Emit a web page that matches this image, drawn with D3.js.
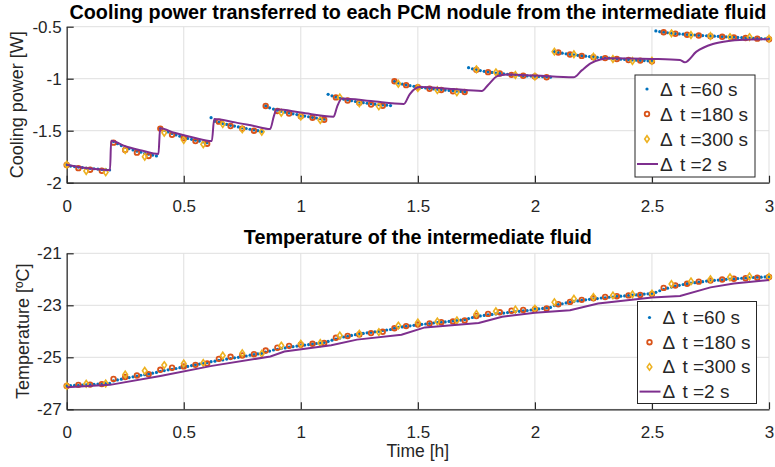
<!DOCTYPE html>
<html>
<head>
<meta charset="utf-8">
<script src="https://cdn.jsdelivr.net/npm/d3@7"></script>
<style>
  body { margin: 0; background: #fff; }
  svg text { font-family: "Liberation Sans", Arial, Helvetica, sans-serif; fill: #262626; }
</style>
</head>
<body>
<svg id="chart" width="775" height="467"></svg>
<script>

// sampling steps of each run, in hours
const step60 = 60 / 3600;
const step180 = 180 / 3600;
const step300 = 300 / 3600;

const xTicks = [0, 0.5, 1, 1.5, 2, 2.5, 3];
const powerTicks = [-2, -1.5, -1, -0.5];
const tempTicks = [-27, -25, -23, -21];

const legendLabels = ["t =60 s", "t =180 s", "t =300 s", "t =2 s"];

// cooling power [W], dt = 60 s (one value per minute)
const power60 = [
  -1.83,-1.84,-1.845,-1.85,-1.855,-1.86,-1.862,-1.866,-1.869,-1.872,-1.875,-1.878,
  -1.605,-1.625,-1.643,-1.658,-1.672,-1.685,-1.697,-1.707,-1.717,-1.726,-1.735,-1.743,
  -1.477,-1.495,-1.512,-1.527,-1.541,-1.553,-1.564,-1.574,-1.583,-1.592,-1.6,-1.608,-1.615,
  -1.375,-1.41,-1.42,-1.43,-1.44,-1.448,-1.456,-1.464,-1.472,-1.479,-1.486,-1.493,-1.5,-1.507,
  -1.262,-1.28,-1.292,-1.303,-1.313,-1.322,-1.33,-1.338,-1.345,-1.352,-1.359,-1.366,-1.372,-1.378,-1.384,-1.39,
  -1.15,-1.165,-1.178,-1.188,-1.197,-1.205,-1.212,-1.219,-1.225,-1.231,-1.236,-1.241,-1.245,-1.249,-1.252,-1.255,-1.258,
  -1.025,-1.042,-1.052,-1.06,-1.067,-1.073,-1.079,-1.084,-1.089,-1.093,-1.097,-1.101,-1.105,-1.109,-1.113,-1.116,-1.119,-1.122,-1.125,
  -0.894,-0.905,-0.914,-0.922,-0.929,-0.935,-0.94,-0.945,-0.949,-0.953,-0.957,-0.961,-0.964,-0.967,-0.97,-0.973,-0.975,-0.977,-0.979,-0.981,-0.983,-0.985,
  -0.74,-0.748,-0.755,-0.761,-0.766,-0.771,-0.775,-0.779,-0.783,-0.787,-0.791,-0.794,-0.797,-0.8,-0.803,-0.806,-0.809,-0.812,-0.815,-0.818,-0.82,-0.822,-0.824,-0.826,-0.828,-0.83,
  -0.541,-0.548,-0.553,-0.558,-0.562,-0.566,-0.569,-0.572,-0.575,-0.578,-0.58,-0.583,-0.585,-0.587,-0.589,-0.591,-0.593,-0.595,-0.597,-0.599,-0.601,-0.603,-0.605,-0.607,-0.609,-0.611,-0.613,-0.615,-0.616,-0.618
];

// cooling power [W], dt = 180 s
const power180 = [
  -1.83,-1.86,-1.875,-1.885,
  -1.615,-1.685,-1.711,-1.743,
  -1.48,-1.54,-1.57,-1.6,-1.625,
  -1.413,-1.455,-1.48,-1.5,
  -1.262,-1.31,-1.335,-1.36,-1.375,-1.395,
  -1.18,-1.21,-1.232,-1.248,-1.26,
  -1.025,-1.062,-1.082,-1.097,-1.108,-1.12,-1.128,
  -0.915,-0.937,-0.95,-0.963,-0.972,-0.979,-0.986,
  -0.748,-0.768,-0.781,-0.793,-0.802,-0.811,-0.82,-0.826,-0.833,
  -0.554,-0.568,-0.577,-0.585,-0.591,-0.597,-0.603,-0.609,-0.615,-0.62
];

// cooling power [W], dt = 300 s
const power300 = [
  -1.827,-1.887,-1.9, -1.686,-1.75, -1.519,-1.59,-1.631, -1.436,-1.487,-1.51,
  -1.327,-1.365,-1.397, -1.18,-1.237,-1.266, -1.048,-1.09,-1.11,-1.131,
  -0.91,-0.939,-0.964,-0.98, -0.74,-0.765,-0.788,-0.81,-0.83,-0.827,
  -0.564,-0.58,-0.59,-0.6,-0.6,-0.615
];

// cooling power [W], dt = 2 s (reference run, read at its corners)
const power2Time = [0,0.09,0.185,0.19,0.25,0.32,0.392,0.399,0.46,0.54,0.62,0.63,0.72,0.8,0.869,0.885,0.897,
  1.0,1.14,1.155,1.175,1.3,1.44,1.465,1.49,1.51,1.65,1.773,1.8,1.84,1.88,2.0,2.165,2.2,2.24,2.28,2.32,
  2.5,2.62,2.64,2.69,2.76,2.835,2.92,3.0];
const power2 = [-1.827,-1.86,-1.878,-1.596,-1.65,-1.69,-1.724,-1.477,-1.52,-1.565,-1.599,-1.388,-1.42,-1.455,-1.484,-1.36,-1.294,
  -1.325,-1.365,-1.27,-1.19,-1.215,-1.243,-1.15,-1.093,-1.08,-1.1,-1.118,-1.06,-0.975,-0.96,-0.97,-0.987,-0.92,-0.85,-0.815,-0.804,
  -0.81,-0.82,-0.843,-0.74,-0.667,-0.635,-0.622,-0.62];

// fluid temperature [C], dt = 60 s
const temp60 = [
  -26.10,-26.09,-26.08,-26.08,-26.07,-26.06,-26.05,-26.04,-26.03,-26.02,-26.01,-26.00,
  -25.91,-25.87,-25.84,-25.81,-25.78,-25.75,-25.72,-25.69,-25.67,-25.64,-25.61,-25.58,
  -25.54,-25.51,-25.48,-25.46,-25.43,-25.40,-25.37,-25.35,-25.32,-25.29,-25.26,-25.24,-25.21,
  -25.17,-25.15,-25.12,-25.10,-25.07,-25.05,-25.02,-25.00,-24.97,-24.95,-24.92,-24.90,-24.87,-24.85,
  -24.80,-24.76,-24.72,-24.69,-24.66,-24.64,-24.61,-24.59,-24.57,-24.55,-24.53,-24.51,-24.49,-24.47,-24.45,-24.43,
  -24.39,-24.34,-24.30,-24.26,-24.22,-24.19,-24.16,-24.13,-24.11,-24.08,-24.06,-24.04,-24.02,-24.00,-23.97,-23.95,-23.93,
  -23.88,-23.85,-23.83,-23.81,-23.79,-23.77,-23.75,-23.73,-23.72,-23.70,-23.68,-23.67,-23.65,-23.64,-23.62,-23.60,-23.59,-23.57,-23.55,
  -23.51,-23.47,-23.44,-23.41,-23.39,-23.37,-23.35,-23.33,-23.32,-23.30,-23.28,-23.27,-23.25,-23.23,-23.21,-23.20,-23.18,-23.16,-23.14,-23.12,-23.10,-23.08,
  -23.01,-22.97,-22.94,-22.91,-22.88,-22.85,-22.83,-22.81,-22.79,-22.77,-22.75,-22.74,-22.72,-22.71,-22.69,-22.68,-22.66,-22.65,-22.64,-22.62,-22.61,-22.60,-22.59,-22.57,-22.56,-22.55,
  -22.50,-22.44,-22.39,-22.34,-22.30,-22.26,-22.23,-22.20,-22.17,-22.15,-22.13,-22.11,-22.09,-22.07,-22.06,-22.04,-22.03,-22.02,-22.00,-21.99,-21.98,-21.97,-21.96,-21.95,-21.94,-21.93,-21.92,-21.92,-21.91,-21.90
];

// fluid temperature [C], dt = 180 s
const temp180 = [
  -26.10,-26.06,-26.05,-26.03, -25.83,-25.76,-25.70,-25.65, -25.48,-25.40,-25.35,-25.29,-25.24,
  -25.06,-24.98,-24.93,-24.88, -24.74,-24.63,-24.56,-24.52,-24.48,-24.45, -24.25,-24.18,-24.12,-24.07,-24.02,
  -23.88,-23.80,-23.74,-23.70,-23.65,-23.62,-23.58, -23.41,-23.33,-23.27,-23.21,-23.18,-23.15,-23.12,
  -22.96,-22.87,-22.79,-22.73,-22.68,-22.65,-22.62,-22.60,-22.57,
  -22.33,-22.24,-22.17,-22.09,-22.05,-22.01,-21.98,-21.96,-21.94,-21.91
];

// fluid temperature [C], dt = 300 s
const temp300 = [
  -26.10,-26.02,-26.01, -25.66,-25.52, -25.30,-25.24,-25.22, -24.93,-24.84,-24.86,
  -24.55,-24.48,-24.45, -24.16,-24.09,-24.03, -23.78,-23.66,-23.62,-23.58,
  -23.33,-23.23,-23.16,-23.13, -22.88,-22.75,-22.68,-22.62,-22.58,-22.55,
  -22.18,-22.08,-22.00,-21.92,-21.89,-21.91
];

// fluid temperature [C], dt = 2 s (reference run, read at its corners)
const temp2Time = [0,0.185,0.40,0.62,0.87,0.93,1.13,1.24,1.43,1.53,1.76,1.86,2.0,2.15,2.27,2.5,2.62,2.75,2.85,3.0];
const temp2 = [-26.15,-26.06,-25.72,-25.33,-24.97,-24.78,-24.54,-24.32,-24.13,-23.85,-23.68,-23.44,-23.29,-23.19,-22.93,-22.70,-22.64,-22.31,-22.16,-22.03];

const colors = { c60: "#0072BD", c180: "#D95319", c300: "#EDB120", c2: "#7E2F8E" };
const axisColor = "#262626";
const gridColor = "#dfdfdf";

const svg = d3.select("svg#chart");
svg.append("rect").attr("width", 775).attr("height", 467).attr("fill", "#fff");

const x = d3.scaleLinear().domain([0, 3]).range([66.7, 769]);
const yPower = d3.scaleLinear().domain([-2, -0.5]).range([182.7, 26.7]);
const yTemp = d3.scaleLinear().domain([-27, -21]).range([409.3, 253.3]);

function toPoints(values, step) {
  return values.map(function(v, i) { return { t: i * step, v: v }; });
}

function toPairs(times, values) {
  return times.map(function(t, i) { return { t: t, v: values[i] }; });
}

function diamond(cx, cy) {
  return "M" + cx + "," + (cy - 3.3) + "L" + (cx + 2.3) + "," + cy +
         "L" + cx + "," + (cy + 3.3) + "L" + (cx - 2.3) + "," + cy + "Z";
}

function drawPanel(y, yticks, cfg) {

  let g = svg.append("g");
  let [x0, x1] = x.range();
  let [y0, y1] = y.range();

  // grid
  g.append("g").selectAll("line").data(xTicks).enter().append("line")
    .attr("x1", function(d) { return x(d); }).attr("x2", function(d) { return x(d); })
    .attr("y1", y0).attr("y2", y1)
    .attr("stroke", gridColor).attr("stroke-width", 1);
  g.append("g").selectAll("line").data(yticks).enter().append("line")
    .attr("x1", x0).attr("x2", x1)
    .attr("y1", function(d) { return y(d); }).attr("y2", function(d) { return y(d); })
    .attr("stroke", gridColor).attr("stroke-width", 1);

  // axes, ticks point inward
  let xAxis = g.append("g")
    .attr("transform", "translate(0," + y0 + ")")
    .call(d3.axisBottom(x).tickValues(xTicks).tickFormat(String)
            .tickSizeInner(-7).tickSizeOuter(0).tickPadding(17));
  let yAxis = g.append("g")
    .attr("transform", "translate(" + x0 + ",0)")
    .call(d3.axisLeft(y).tickValues(yticks).tickFormat(String)
            .tickSizeInner(-7).tickSizeOuter(0).tickPadding(5));

  [xAxis, yAxis].forEach(function(a) {
    a.select(".domain").attr("stroke", axisColor).attr("stroke-width", 1.2);
    a.selectAll(".tick line").attr("stroke", axisColor).attr("stroke-width", 1.2);
    a.selectAll(".tick text").attr("fill", axisColor)
      .style("font-size", "17px").style("font-family", null);
  });

  // series
  let p60 = toPoints(cfg.s60, step60);
  let p180 = toPoints(cfg.s180, step180);
  let p300 = toPoints(cfg.s300, step300);
  let p2 = toPairs(cfg.t2, cfg.s2);

  g.append("g").selectAll("circle").data(p60).enter().append("circle")
    .attr("cx", function(d) { return x(d.t); })
    .attr("cy", function(d) { return y(d.v); })
    .attr("r", 1.6)
    .attr("fill", colors.c60);

  g.append("g").selectAll("circle").data(p180).enter().append("circle")
    .attr("cx", function(d) { return x(d.t); })
    .attr("cy", function(d) { return y(d.v); })
    .attr("r", 2.3)
    .attr("fill", "none")
    .attr("stroke", colors.c180).attr("stroke-width", 1.8);

  g.append("g").selectAll("path").data(p300).enter().append("path")
    .attr("d", function(d) { return diamond(x(d.t), y(d.v)); })
    .attr("fill", "none")
    .attr("stroke", colors.c300).attr("stroke-width", 1.6);

  g.append("path").datum(p2)
    .attr("d", d3.line().x(function(d) { return x(d.t); })
                        .y(function(d) { return y(d.v); })
                        .curve(cfg.curve))
    .attr("fill", "none")
    .attr("stroke", colors.c2).attr("stroke-width", 2);

  // titles
  svg.append("text")
    .attr("x", (x0 + x1) / 2).attr("y", cfg.titleY)
    .attr("text-anchor", "middle")
    .style("font-size", "19.8px").style("font-weight", "bold")
    .style("fill", "#000")
    .text(cfg.title);

  svg.append("text")
    .attr("transform", "translate(" + cfg.labelX + "," + (y0 + y1) / 2 + ") rotate(-90)")
    .attr("text-anchor", "middle")
    .style("font-size", "18px")
    .text(cfg.ylabel);

  renderLegend(cfg.legend);
}

function renderLegend(box) {

  let g = svg.append("g").attr("transform", "translate(" + box.x + "," + box.y + ")");
  g.append("rect")
    .attr("width", box.w).attr("height", box.h)
    .attr("fill", "#fff").attr("stroke", axisColor).attr("stroke-width", 1);

  let rows = g.selectAll("g").data(legendLabels).enter().append("g")
    .attr("transform", function(d, i) { return "translate(0," + (box.first + box.gap * i) + ")"; });

  rows.each(function(d, i) {
    let r = d3.select(this);
    let mx = 12;
    if (i === 0) {
      r.append("circle").attr("cx", mx).attr("cy", 0).attr("r", 1.6).attr("fill", colors.c60);
    } else if (i === 1) {
      r.append("circle").attr("cx", mx).attr("cy", 0).attr("r", 2.3)
        .attr("fill", "none").attr("stroke", colors.c180).attr("stroke-width", 1.8);
    } else if (i === 2) {
      r.append("path").attr("d", diamond(mx, 0))
        .attr("fill", "none").attr("stroke", colors.c300).attr("stroke-width", 1.6);
    } else {
      r.append("line").attr("x1", 2).attr("x2", 23).attr("y1", 0).attr("y2", 0)
        .attr("stroke", colors.c2).attr("stroke-width", 2);
    }
  });

  let txt = rows.append("text")
    .attr("x", 25).attr("y", 6.5)
    .style("font-size", "19px");
  txt.append("tspan").text("\u0394");
  txt.append("tspan").attr("dx", 3).text(function(d) { return " " + d; });
}

drawPanel(yPower, powerTicks, {
  s60: power60, s180: power180, s300: power300, t2: power2Time, s2: power2,
  curve: d3.curveMonotoneX,
  title: "Cooling power transferred to each PCM nodule from the intermediate fluid",
  titleY: 18.5, ylabel: "Cooling power [W]", labelX: 23,
  legend: { x: 635, y: 75, w: 120, h: 102, first: 14, gap: 25 }
});

drawPanel(yTemp, tempTicks, {
  s60: temp60, s180: temp180, s300: temp300, t2: temp2Time, s2: temp2,
  curve: d3.curveLinear,
  title: "Temperature of the intermediate fluid",
  titleY: 244, ylabel: "Temperature [\u00baC]", labelX: 29,
  legend: { x: 637.5, y: 301.5, w: 119, h: 102, first: 16, gap: 24.7 }
});

svg.append("text")
  .attr("x", (x.range()[0] + x.range()[1]) / 2).attr("y", 457)
  .attr("text-anchor", "middle")
  .style("font-size", "17.5px")
  .text("Time [h]");

</script>
</body>
</html>
